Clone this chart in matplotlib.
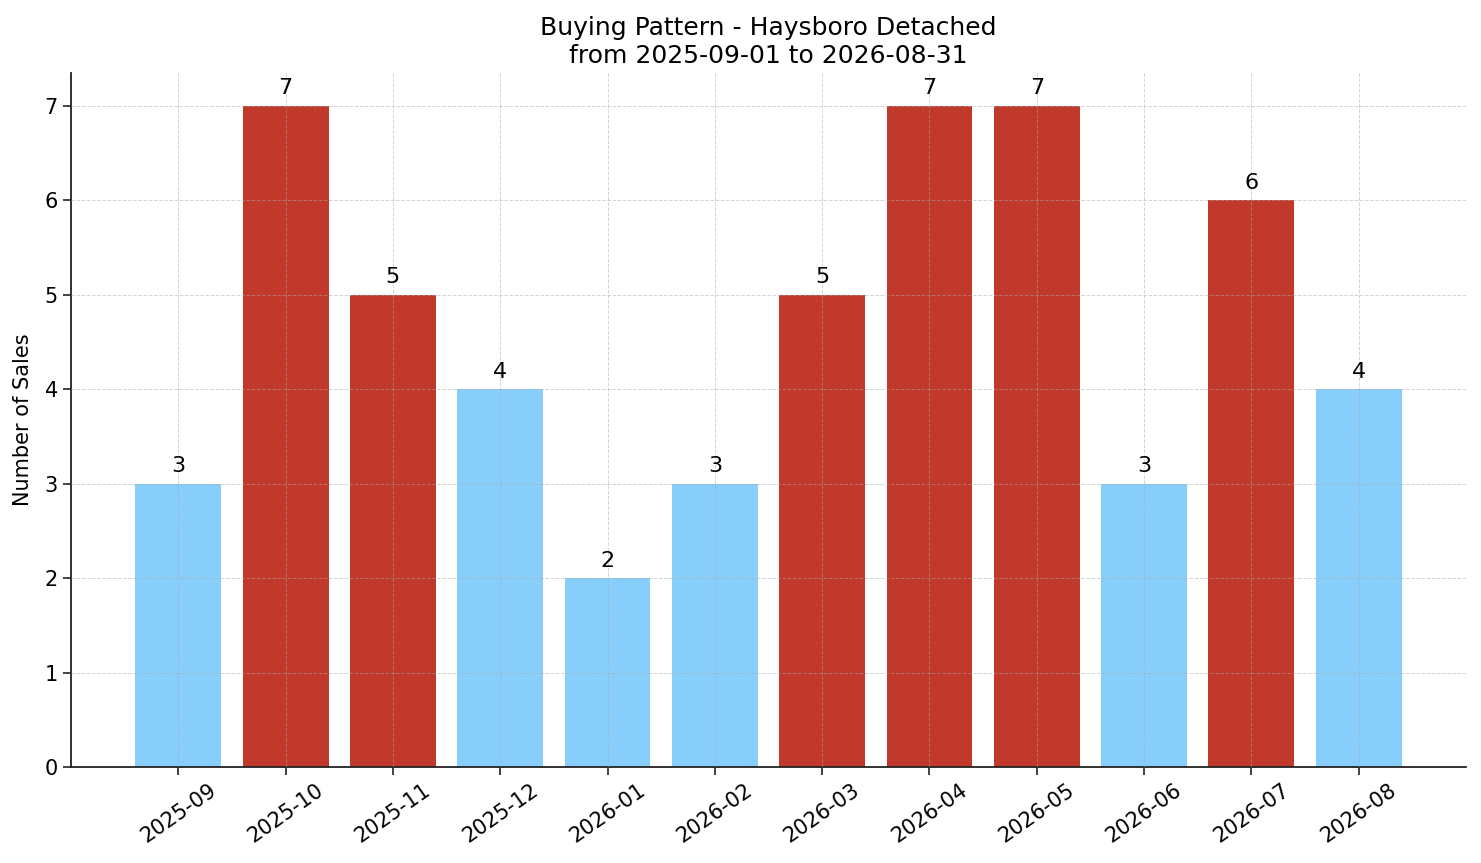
import matplotlib
matplotlib.use("Agg")
import matplotlib.pyplot as plt

months = ["2025-09", "2025-10", "2025-11", "2025-12", "2026-01", "2026-02",
          "2026-03", "2026-04", "2026-05", "2026-06", "2026-07", "2026-08"]
sales = [3, 7, 5, 4, 2, 3, 5, 7, 7, 3, 6, 4]
threshold = 5
high_color = "#C0392B"
low_color = "#87CEFA"

fig = plt.figure(figsize=(14.81, 8.63), dpi=100)
ax = fig.add_axes([71/1481, 1 - 767/863, (1466-71)/1481, (767-73)/863])

colors = [high_color if v >= threshold else low_color for v in sales]
x = list(range(len(months)))
ax.bar(x, sales, width=0.8, color=colors, zorder=1)
for xi, v in zip(x, sales):
    ax.text(xi, v + 0.08, str(v), ha="center", va="bottom", fontsize=16, zorder=3)

ax.set_xticks(x)
ax.set_xticklabels(months, rotation=35, fontsize=15)
ax.tick_params(axis="both", length=6, width=1.2, color="#222222")
ax.tick_params(axis="y", labelsize=15)
ax.set_xlim(-1, 12)
ax.set_ylim(0, 7.35)
ax.set_ylabel("Number of Sales", fontsize=15, labelpad=8)
ax.set_title("Buying Pattern - Haysboro Detached\nfrom 2025-09-01 to 2026-08-31",
             fontsize=18, pad=7)
ax.grid(True, linestyle="--", color="#aaaaaa", alpha=0.5, linewidth=0.7, zorder=2)
ax.set_axisbelow(False)
ax.spines["top"].set_visible(False)
ax.spines["right"].set_visible(False)
for s in ("left", "bottom"):
    ax.spines[s].set_linewidth(1.3)
    ax.spines[s].set_color("#222222")

fig.savefig("out.png", dpi=100)
